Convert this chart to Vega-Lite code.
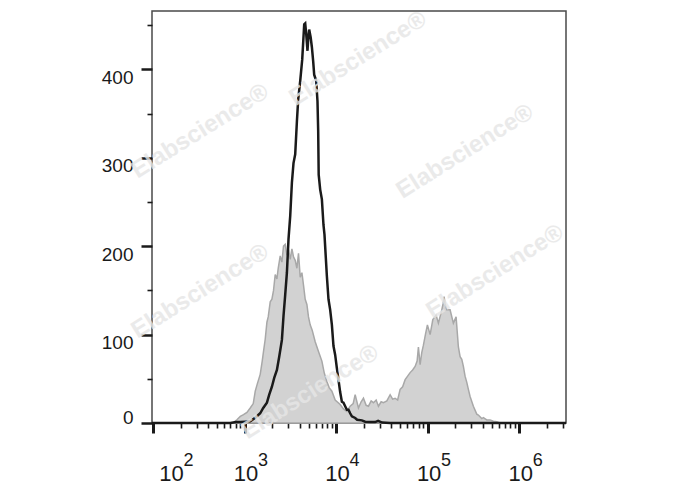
{
  "$schema": "https://vega.github.io/schema/vega-lite/v6.json",
  "width": 414,
  "height": 412,
  "autosize": "none",
  "padding": {"left": 152, "top": 11, "right": 122, "bottom": 67},
  "background": "white",
  "config": {
    "view": {"stroke": "#4a4a4a", "strokeWidth": 1.5},
    "font": "Liberation Sans",
    "axisY": {"labelFontSize": 19, "labelColor": "#1a1a1a", "labelPadding": 8}
  },
  "datasets": {
    "hist": [
      {"s": "stained", "x": 97.5, "n": 0}, {"s": "stained", "x": 698, "n": 0}, {"s": "stained", "x": 759, "n": 0.7}, {"s": "stained", "x": 826, "n": 3.7},
      {"s": "stained", "x": 898, "n": 7.5}, {"s": "stained", "x": 975, "n": 9.4}, {"s": "stained", "x": 1062, "n": 12}, {"s": "stained", "x": 1154, "n": 17},
      {"s": "stained", "x": 1245, "n": 22}, {"s": "stained", "x": 1309, "n": 36}, {"s": "stained", "x": 1376, "n": 44}, {"s": "stained", "x": 1483, "n": 55},
      {"s": "stained", "x": 1560, "n": 70}, {"s": "stained", "x": 1612, "n": 81}, {"s": "stained", "x": 1683, "n": 95}, {"s": "stained", "x": 1756, "n": 114},
      {"s": "stained", "x": 1814, "n": 120}, {"s": "stained", "x": 1908, "n": 137}, {"s": "stained", "x": 1991, "n": 140}, {"s": "stained", "x": 2073, "n": 150},
      {"s": "stained", "x": 2163, "n": 168}, {"s": "stained", "x": 2258, "n": 163}, {"s": "stained", "x": 2333, "n": 175}, {"s": "stained", "x": 2453, "n": 189},
      {"s": "stained", "x": 2560, "n": 182}, {"s": "stained", "x": 2665, "n": 200}, {"s": "stained", "x": 2781, "n": 202}, {"s": "stained", "x": 2903, "n": 190},
      {"s": "stained", "x": 3022, "n": 196}, {"s": "stained", "x": 3154, "n": 185}, {"s": "stained", "x": 3292, "n": 197}, {"s": "stained", "x": 3427, "n": 188},
      {"s": "stained", "x": 3577, "n": 184}, {"s": "stained", "x": 3733, "n": 175}, {"s": "stained", "x": 3886, "n": 192}, {"s": "stained", "x": 4057, "n": 165},
      {"s": "stained", "x": 4234, "n": 170}, {"s": "stained", "x": 4407, "n": 156}, {"s": "stained", "x": 4600, "n": 140}, {"s": "stained", "x": 4800, "n": 134},
      {"s": "stained", "x": 4997, "n": 120}, {"s": "stained", "x": 5214, "n": 111}, {"s": "stained", "x": 5484, "n": 105}, {"s": "stained", "x": 5912, "n": 92},
      {"s": "stained", "x": 6425, "n": 81}, {"s": "stained", "x": 6998, "n": 70}, {"s": "stained", "x": 7415, "n": 57}, {"s": "stained", "x": 7935, "n": 47},
      {"s": "stained", "x": 8409, "n": 40}, {"s": "stained", "x": 8999, "n": 36}, {"s": "stained", "x": 9777, "n": 26}, {"s": "stained", "x": 11080, "n": 21},
      {"s": "stained", "x": 12040, "n": 16}, {"s": "stained", "x": 13120, "n": 13}, {"s": "stained", "x": 14250, "n": 19}, {"s": "stained", "x": 15370, "n": 22},
      {"s": "stained", "x": 16160, "n": 32}, {"s": "stained", "x": 17560, "n": 17}, {"s": "stained", "x": 18790, "n": 24}, {"s": "stained", "x": 19910, "n": 28},
      {"s": "stained", "x": 21310, "n": 20}, {"s": "stained", "x": 22580, "n": 19}, {"s": "stained", "x": 24170, "n": 25}, {"s": "stained", "x": 25600, "n": 23},
      {"s": "stained", "x": 27410, "n": 26}, {"s": "stained", "x": 29030, "n": 19}, {"s": "stained", "x": 31070, "n": 24}, {"s": "stained", "x": 32920, "n": 23},
      {"s": "stained", "x": 35860, "n": 25}, {"s": "stained", "x": 38960, "n": 32}, {"s": "stained", "x": 41480, "n": 27}, {"s": "stained", "x": 44180, "n": 28},
      {"s": "stained", "x": 47050, "n": 26}, {"s": "stained", "x": 50100, "n": 38}, {"s": "stained", "x": 53350, "n": 41}, {"s": "stained", "x": 56820, "n": 49},
      {"s": "stained", "x": 60500, "n": 53}, {"s": "stained", "x": 64410, "n": 57}, {"s": "stained", "x": 68580, "n": 60}, {"s": "stained", "x": 73030, "n": 64},
      {"s": "stained", "x": 76790, "n": 70}, {"s": "stained", "x": 79340, "n": 86}, {"s": "stained", "x": 82810, "n": 66}, {"s": "stained", "x": 86430, "n": 80},
      {"s": "stained", "x": 89980, "n": 88}, {"s": "stained", "x": 94620, "n": 100}, {"s": "stained", "x": 99500, "n": 111}, {"s": "stained", "x": 106500, "n": 100},
      {"s": "stained", "x": 114000, "n": 117}, {"s": "stained", "x": 123800, "n": 122}, {"s": "stained", "x": 131200, "n": 113}, {"s": "stained", "x": 142900, "n": 128},
      {"s": "stained", "x": 147600, "n": 135}, {"s": "stained", "x": 151400, "n": 143}, {"s": "stained", "x": 155200, "n": 135}, {"s": "stained", "x": 162000, "n": 128},
      {"s": "stained", "x": 176000, "n": 128}, {"s": "stained", "x": 191200, "n": 113}, {"s": "stained", "x": 204700, "n": 120}, {"s": "stained", "x": 216900, "n": 86},
      {"s": "stained", "x": 226400, "n": 75}, {"s": "stained", "x": 236200, "n": 72}, {"s": "stained", "x": 245900, "n": 64}, {"s": "stained", "x": 256600, "n": 53},
      {"s": "stained", "x": 267900, "n": 46}, {"s": "stained", "x": 278900, "n": 38}, {"s": "stained", "x": 291100, "n": 30}, {"s": "stained", "x": 316200, "n": 19},
      {"s": "stained", "x": 344400, "n": 10}, {"s": "stained", "x": 358600, "n": 9}, {"s": "stained", "x": 390600, "n": 5}, {"s": "stained", "x": 406600, "n": 6},
      {"s": "stained", "x": 443000, "n": 3.5}, {"s": "stained", "x": 481300, "n": 3.5}, {"s": "stained", "x": 522900, "n": 2}, {"s": "stained", "x": 569300, "n": 1.5},
      {"s": "stained", "x": 618800, "n": 0}, {"s": "stained", "x": 3250000, "n": 0},
      {"s": "control", "x": 97.5, "n": 0}, {"s": "control", "x": 698, "n": 0}, {"s": "control", "x": 811, "n": 1}, {"s": "control", "x": 898, "n": 1},
      {"s": "control", "x": 1018, "n": 1.5}, {"s": "control", "x": 1154, "n": 2}, {"s": "control", "x": 1309, "n": 6}, {"s": "control", "x": 1483, "n": 11},
      {"s": "control", "x": 1600, "n": 17}, {"s": "control", "x": 1756, "n": 23}, {"s": "control", "x": 1861, "n": 32}, {"s": "control", "x": 1991, "n": 41},
      {"s": "control", "x": 2110, "n": 51}, {"s": "control", "x": 2258, "n": 60}, {"s": "control", "x": 2392, "n": 75}, {"s": "control", "x": 2560, "n": 94},
      {"s": "control", "x": 2665, "n": 121}, {"s": "control", "x": 2781, "n": 145}, {"s": "control", "x": 2903, "n": 170}, {"s": "control", "x": 3022, "n": 208},
      {"s": "control", "x": 3154, "n": 234}, {"s": "control", "x": 3292, "n": 272}, {"s": "control", "x": 3427, "n": 294}, {"s": "control", "x": 3577, "n": 304},
      {"s": "control", "x": 3733, "n": 341}, {"s": "control", "x": 3857, "n": 366}, {"s": "control", "x": 4057, "n": 387}, {"s": "control", "x": 4266, "n": 411},
      {"s": "control", "x": 4486, "n": 451}, {"s": "control", "x": 4600, "n": 452}, {"s": "control", "x": 4717, "n": 440}, {"s": "control", "x": 4873, "n": 421},
      {"s": "control", "x": 4960, "n": 434}, {"s": "control", "x": 5085, "n": 445}, {"s": "control", "x": 5280, "n": 436}, {"s": "control", "x": 5442, "n": 425},
      {"s": "control", "x": 5623, "n": 409}, {"s": "control", "x": 5766, "n": 394}, {"s": "control", "x": 6064, "n": 387}, {"s": "control", "x": 6265, "n": 364},
      {"s": "control", "x": 6377, "n": 330}, {"s": "control", "x": 6457, "n": 281}, {"s": "control", "x": 6706, "n": 264}, {"s": "control", "x": 6998, "n": 253},
      {"s": "control", "x": 7285, "n": 224}, {"s": "control", "x": 7471, "n": 213}, {"s": "control", "x": 7935, "n": 166}, {"s": "control", "x": 8260, "n": 140},
      {"s": "control", "x": 8621, "n": 128}, {"s": "control", "x": 8999, "n": 111}, {"s": "control", "x": 9368, "n": 87}, {"s": "control", "x": 9777, "n": 77},
      {"s": "control", "x": 10200, "n": 62}, {"s": "control", "x": 10620, "n": 49}, {"s": "control", "x": 11080, "n": 35}, {"s": "control", "x": 11570, "n": 24},
      {"s": "control", "x": 12040, "n": 23}, {"s": "control", "x": 12570, "n": 19}, {"s": "control", "x": 13120, "n": 15}, {"s": "control", "x": 13660, "n": 15},
      {"s": "control", "x": 14250, "n": 11}, {"s": "control", "x": 14880, "n": 7.5}, {"s": "control", "x": 16160, "n": 5.7}, {"s": "control", "x": 16990, "n": 3.7},
      {"s": "control", "x": 19120, "n": 3}, {"s": "control", "x": 20780, "n": 1.5}, {"s": "control", "x": 23570, "n": 1}, {"s": "control", "x": 26720, "n": 1},
      {"s": "control", "x": 28810, "n": 2.5}, {"s": "control", "x": 31860, "n": 0.5}, {"s": "control", "x": 38960, "n": 0}, {"s": "control", "x": 3250000, "n": 0}
    ],
    "marks": [
      {"x": 17420, "n": 412, "t": "Elabscience®"},
      {"x": 328, "n": 330, "t": "Elabscience®"},
      {"x": 256500, "n": 307, "t": "Elabscience®"},
      {"x": 546000, "n": 171, "t": "Elabscience®"},
      {"x": 328, "n": 149, "t": "Elabscience®"},
      {"x": 5210, "n": 35, "t": "Elabscience®"}
    ]
  },
  "resolve": {"axis": {"x": "independent"}},
  "layer": [
    {
      "data": {"name": "hist"},
      "transform": [{"filter": "datum.s == 'stained'"}],
      "mark": {"type": "area", "fill": "#d2d2d2", "stroke": "#a8a8a8", "strokeWidth": 1.5, "interpolate": "linear"},
      "encoding": {
        "x": {
          "field": "x", "type": "quantitative",
          "scale": {"type": "log", "domain": [97.5, 3250000], "nice": false},
          "axis": {
            "orient": "bottom", "title": null, "labels": false, "domain": false, "grid": false,
            "values": [100, 200, 300, 400, 500, 600, 700, 800, 900, 1000, 2000, 3000, 4000, 5000, 6000, 7000, 8000, 9000, 10000, 20000, 30000, 40000, 50000, 60000, 70000, 80000, 90000, 100000, 200000, 300000, 400000, 500000, 600000, 700000, 800000, 900000, 1000000, 2000000, 3000000],
            "tickColor": "#1a1a1a",
            "tickSize": {"condition": {"test": "indexof([100,1000,10000,100000,1000000], datum.value) >= 0", "value": 10}, "value": 5},
            "tickWidth": {"condition": {"test": "indexof([100,1000,10000,100000,1000000], datum.value) >= 0", "value": 3}, "value": 1.6}
          }
        },
        "y": {
          "field": "n", "type": "quantitative",
          "scale": {"domain": [0, 466], "nice": false},
          "axis": {
            "title": null, "domain": false, "grid": false,
            "values": [0, 25, 50, 75, 100, 125, 150, 175, 200, 225, 250, 275, 300, 325, 350, 375, 400, 425, 450],
            "labelExpr": "datum.value % 100 == 0 ? datum.label : ''",
            "labelOverlap": false,
            "labelFontSize": 19,
            "labelOffset": {"condition": {"test": "datum.value == 0", "value": -6}, "value": 8},
            "tickColor": "#1a1a1a",
            "tickSize": {"condition": {"test": "datum.value % 100 == 0", "value": 11}, "value": 5},
            "tickWidth": {"condition": {"test": "datum.value % 100 == 0", "value": 2.5}, "value": 1.6}
          }
        }
      }
    },
    {
      "data": {"name": "hist"},
      "transform": [{"filter": "datum.s == 'control'"}],
      "mark": {"type": "line", "color": "#1a1a1a", "strokeWidth": 2.5, "interpolate": "linear"},
      "encoding": {
        "x": {
          "field": "x", "type": "quantitative",
          "scale": {"type": "log", "domain": [97.5, 3250000], "nice": false},
          "axis": {
            "orient": "bottom", "title": null, "ticks": false, "domain": false, "grid": false,
            "values": [100, 1000, 10000, 100000, 1000000],
            "labelExpr": "'10'",
            "labelFlush": false, "labelOverlap": false, "labelBound": false,
            "labelFontSize": 22, "labelColor": "#1a1a1a", "labelBaseline": "alphabetic",
            "labelPadding": 57,
            "labelOffset": {"condition": {"test": "datum.value == 100", "value": 18}, "value": 1}
          }
        },
        "y": {"field": "n", "type": "quantitative", "scale": {"domain": [0, 466], "nice": false}}
      }
    },
    {
      "data": {"name": "marks"},
      "mark": {"type": "text", "font": "Liberation Sans", "fontWeight": "bold", "fontSize": 24, "angle": -32, "color": "#e6e6e6", "opacity": 0.8},
      "encoding": {
        "x": {
          "field": "x", "type": "quantitative",
          "scale": {"type": "log", "domain": [97.5, 3250000], "nice": false},
          "axis": {
            "orient": "bottom", "title": null, "ticks": false, "domain": false, "grid": false,
            "values": [100, 1000, 10000, 100000, 1000000],
            "labelExpr": "'' + round(log(datum.value) / LN10)",
            "labelFlush": false, "labelOverlap": false, "labelBound": false,
            "labelFontSize": 18, "labelColor": "#1a1a1a", "labelBaseline": "alphabetic",
            "labelPadding": 42,
            "labelOffset": {"condition": {"test": "datum.value == 100", "value": 35}, "value": 18}
          }
        },
        "y": {"field": "n", "type": "quantitative", "scale": {"domain": [0, 466], "nice": false}},
        "text": {"field": "t", "type": "nominal"}
      }
    }
  ]
}
